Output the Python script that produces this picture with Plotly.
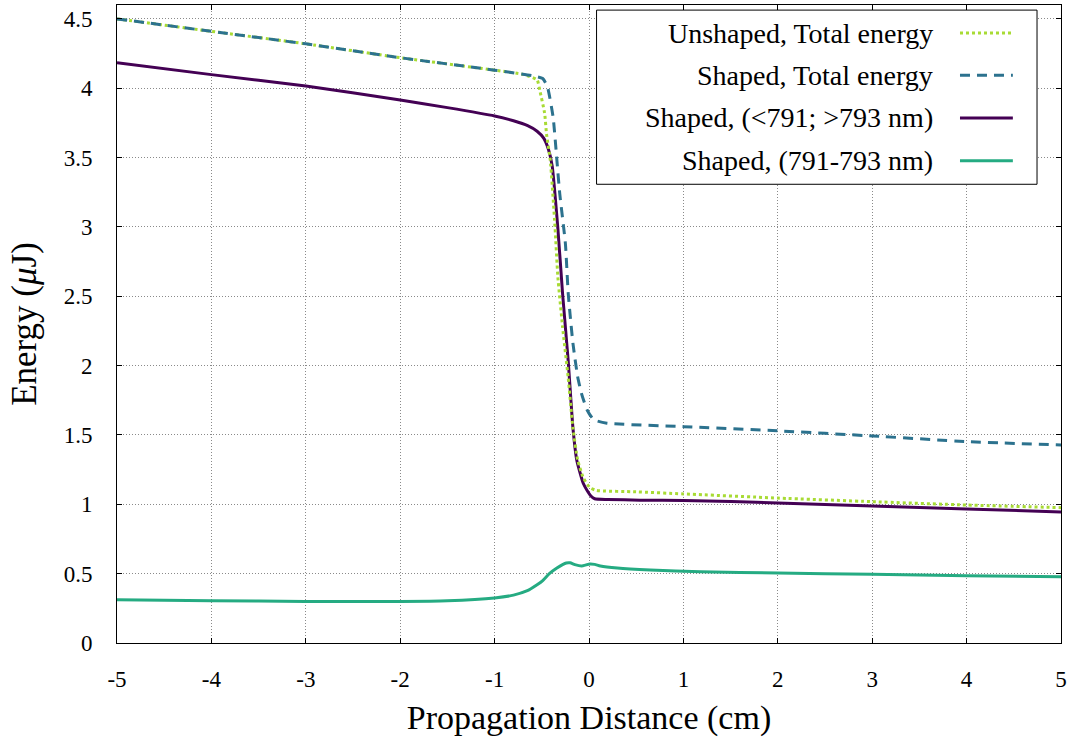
import plotly.graph_objects as go

# ---------------- data ----------------
x_unshaped_total = [-5, -4, -3, -2, -1, -0.7, -0.55, -0.52, -0.47, -0.45, -0.41, -0.36, -0.33,
                    -0.28, -0.22, -0.17, -0.12, -0.06, 0.01, 0.08, 0.5, 1, 2, 3, 4, 5]
y_unshaped_total = [4.50, 4.41, 4.32, 4.22, 4.13, 4.10, 4.06, 3.98, 3.82, 3.67, 3.48, 3.00, 2.64,
                    2.28, 1.91, 1.55, 1.32, 1.19, 1.12, 1.10, 1.09, 1.075, 1.045, 1.019, 0.995, 0.976]

x_shaped_total = [-5, -4, -3, -2, -1, -0.6, -0.49, -0.44, -0.38, -0.34, -0.31, -0.25, -0.22,
                  -0.17, -0.12, -0.08, -0.02, 0.05, 0.19, 1, 2, 3, 4, 5]
y_shaped_total = [4.50, 4.41, 4.32, 4.22, 4.13, 4.09, 4.07, 4.01, 3.79, 3.48, 3.24, 2.88, 2.52,
                  2.16, 1.92, 1.80, 1.68, 1.61, 1.585, 1.56, 1.53, 1.493, 1.452, 1.428]

x_shaped_out = [-5, -4, -3, -2, -1.5, -1, -0.8, -0.65, -0.55, -0.48, -0.43, -0.39, -0.33, -0.28,
                -0.22, -0.17, -0.13, -0.10, -0.06, -0.02, 0.02, 0.06, 0.2, 0.54, 1, 2, 3, 4, 5]
y_shaped_out = [4.184, 4.098, 4.016, 3.915, 3.86, 3.80, 3.765, 3.73, 3.69, 3.64, 3.56, 3.44, 2.99,
                2.52, 2.03, 1.55, 1.32, 1.24, 1.15, 1.10, 1.06, 1.04, 1.035, 1.03, 1.028, 1.01,
                0.988, 0.966, 0.945]

x_shaped_in = [-5, -4, -3, -2, -1.5, -1, -0.8, -0.66, -0.55, -0.49, -0.42, -0.34, -0.28, -0.24,
               -0.2, -0.15, -0.08, 0.01, 0.06, 0.12, 0.3, 0.65, 1.18, 2, 3, 4, 5]
y_shaped_in = [0.312, 0.305, 0.30, 0.30, 0.305, 0.325, 0.345, 0.375, 0.42, 0.45, 0.50, 0.54, 0.565,
               0.577, 0.578, 0.565, 0.555, 0.57, 0.567, 0.555, 0.54, 0.526, 0.514, 0.505, 0.495,
               0.485, 0.478]

series_names = ["Unshaped, Total energy", "Shaped, Total energy",
                "Shaped, (&lt;791; &gt;793 nm)", "Shaped, (791-793 nm)"]
series_colors = ["#a8db34", "#2c728e", "#440154", "#25ab82"]
series_dash = ["3px,3px", "10px,7px", "solid", "solid"]

x_ticks = [-5, -4, -3, -2, -1, 0, 1, 2, 3, 4, 5]
x_ticktext = ["-5", "-4", "-3", "-2", "-1", "0", "1", "2", "3", "4", "5"]
y_ticks = [0, 0.5, 1, 1.5, 2, 2.5, 3, 3.5, 4, 4.5]
y_ticktext = ["0", "0.5", "1", "1.5", "2", "2.5", "3", "3.5", "4", "4.5"]

FONT = "Liberation Serif"

fig = go.Figure()
xs = [x_unshaped_total, x_shaped_total, x_shaped_out, x_shaped_in]
ys = [y_unshaped_total, y_shaped_total, y_shaped_out, y_shaped_in]
# draw order: bottom first
for i in [3, 2, 0, 1]:
    fig.add_trace(go.Scatter(
        x=xs[i], y=ys[i], mode="lines", name=series_names[i],
        line=dict(color=series_colors[i], width=3, dash=series_dash[i],
                  shape="spline", smoothing=0.5),
        showlegend=False, hoverinfo="skip", cliponaxis=True))

# custom legend (text right-aligned, sample on the right, like gnuplot)
box_x0, box_x1, box_y0, box_y1 = 0.508, 0.9746, 0.719, 0.992
fig.add_shape(type="rect", xref="paper", yref="paper", x0=box_x0, x1=box_x1,
              y0=box_y0, y1=box_y1, line=dict(color="black", width=1),
              fillcolor="white", layer="above")
row_y = [0.956, 0.890, 0.823, 0.756]
for i in range(4):
    fig.add_annotation(xref="paper", yref="paper", x=0.866, y=row_y[i],
                       text=series_names[i], showarrow=False, xanchor="right",
                       yanchor="middle", font=dict(family=FONT, size=28, color="black"))
    fig.add_shape(type="line", xref="paper", yref="paper", x0=0.893, x1=0.949,
                  y0=row_y[i], y1=row_y[i], layer="above",
                  line=dict(color=series_colors[i], width=3, dash=series_dash[i]))

axis_common = dict(showline=True, linecolor="black", linewidth=1, mirror="allticks",
                   ticks="inside", ticklen=5, tickcolor="black", automargin=False,
                   ticklabeloverflow="allow",
                   showgrid=True, gridcolor="#8a8a8a", gridwidth=1, griddash="1px,2px",
                   zeroline=False, tickfont=dict(family=FONT, size=23, color="black"))

fig.update_xaxes(range=[-5, 5], tickvals=x_ticks, ticktext=x_ticktext, ticklabelstandoff=15,
                 title=dict(text="Propagation Distance (cm)",
                            font=dict(family=FONT, size=34, color="black"), standoff=14),
                 **axis_common)
fig.update_yaxes(range=[0, 4.6], tickvals=y_ticks, ticktext=y_ticktext, ticklabelstandoff=19,
                 title=dict(text="Energy (<i>μ</i>J)",
                            font=dict(family=FONT, size=35, color="black"), standoff=16),
                 **axis_common)

fig.update_layout(width=1070, height=740,
                  margin=dict(l=117, r=9, t=5, b=97),
                  paper_bgcolor="white", plot_bgcolor="white",
                  font=dict(family=FONT, color="black"))

fig.write_html("out.html", config={"displayModeBar": False},
               post_script="document.body.style.margin='0px';document.body.style.padding='0px';")
